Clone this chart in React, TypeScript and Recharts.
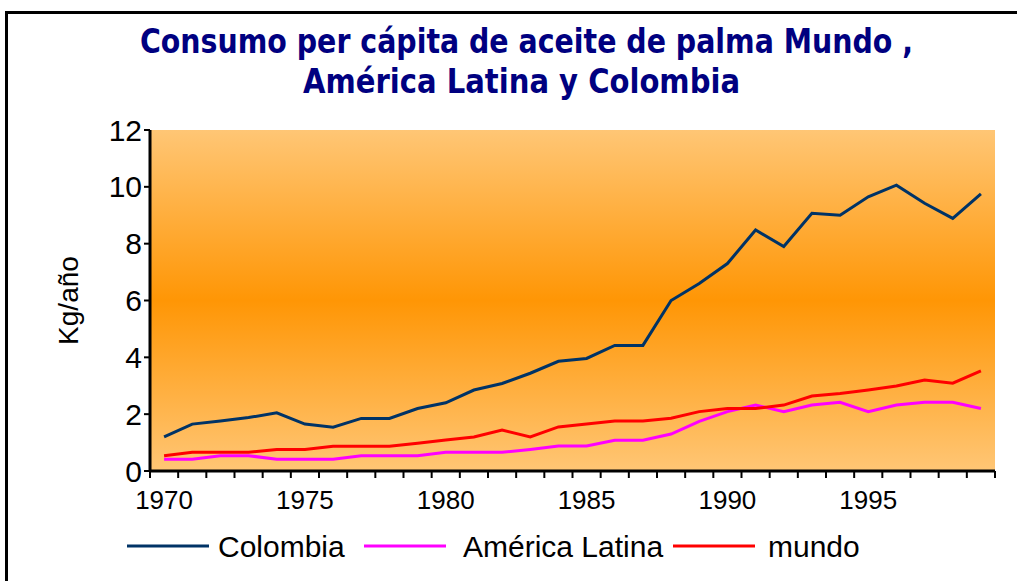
import React from 'react';
import { LineChart, Line, XAxis, YAxis, CartesianGrid } from 'recharts';

// categories
const years = [
  1970, 1971, 1972, 1973, 1974, 1975, 1976, 1977, 1978, 1979,
  1980, 1981, 1982, 1983, 1984, 1985, 1986, 1987, 1988, 1989,
  1990, 1991, 1992, 1993, 1994, 1995, 1996, 1997, 1998, 1999,
];

// series values (kg/año)
const colombia = [
  1.2, 1.65, 1.76, 1.88, 2.05, 1.65, 1.54, 1.85, 1.85, 2.2,
  2.4, 2.85, 3.08, 3.44, 3.86, 3.96, 4.42, 4.42, 6.0, 6.6,
  7.3, 8.48, 7.9, 9.07, 9.0, 9.65, 10.06, 9.42, 8.89, 9.75,
];
const americaLatina = [
  0.41, 0.41, 0.54, 0.54, 0.41, 0.41, 0.41, 0.54, 0.54, 0.54,
  0.66, 0.66, 0.66, 0.76, 0.88, 0.88, 1.08, 1.08, 1.3, 1.75,
  2.09, 2.32, 2.09, 2.32, 2.42, 2.09, 2.32, 2.42, 2.42, 2.2,
];
const mundo = [
  0.54, 0.66, 0.66, 0.66, 0.76, 0.76, 0.87, 0.87, 0.87, 0.98,
  1.09, 1.2, 1.44, 1.2, 1.55, 1.65, 1.76, 1.76, 1.86, 2.09,
  2.2, 2.2, 2.32, 2.64, 2.73, 2.85, 2.99, 3.2, 3.09, 3.52,
];

// tick labels
const yTicks = [0, 2, 4, 6, 8, 10, 12];
const xLabels = ['1970', '1975', '1980', '1985', '1990', '1995'];

const seriesNames = ['Colombia', 'América Latina', 'mundo'];
const seriesColors = ['#003366', '#FF00FF', '#FF0000'];

const W = 1017;
const H = 581;
const PLOT_LEFT = 150;
const PLOT_RIGHT = 22;
const HALF_CAT = (W - PLOT_LEFT - PLOT_RIGHT) / years.length / 2;

// tick marks sit between categories, like the original
const boundaryTicks = [...years.map(y => y - 0.5), years[years.length - 1] + 0.5];

const chartData = years.map((year, i) => ({
  year,
  colombia: colombia[i],
  latina: americaLatina[i],
  mundo: mundo[i],
}));

const FONT = '"Liberation Sans", Arial, sans-serif';

function YearTick(props: any) {
  const { x, y, payload } = props;
  const label = String(payload.value + 0.5);
  if (!xLabels.includes(label)) return null;
  return (
    <text x={x + HALF_CAT} y={y} dy={29} textAnchor="middle" fontSize={26} fontFamily={FONT} fill="#000">
      {label}
    </text>
  );
}

function YLabel(props: any) {
  const { viewBox } = props;
  const cx = viewBox.x + 78;
  const cy = viewBox.y + viewBox.height / 2;
  return (
    <text x={cx} y={cy} transform={`rotate(-90 ${cx} ${cy})`} textAnchor="middle" fontSize={28} fontFamily={FONT} fill="#000">
      Kg/año
    </text>
  );
}

const legendLayout = [
  { lineX: 127, textX: 218 },
  { lineX: 364, textX: 463 },
  { lineX: 673, textX: 768 },
];

export default function App() {
  return (
    <div style={{ position: 'absolute', left: 0, top: 0, width: W, height: H, overflow: 'hidden', background: '#fff' }}>
      <div style={{ position: 'absolute', left: 5, top: 11, width: 1040, height: 620, border: '3px solid #000' }} />

      <svg width={W} height={110} style={{ position: 'absolute', left: 0, top: 0 }}>
        <text x={140} y={53} textLength={773} lengthAdjust="spacingAndGlyphs" fontSize={33} fontWeight="bold"
          fontFamily='"DejaVu Sans Condensed", "DejaVu Sans", sans-serif' fill="#000080">
          Consumo per cápita de aceite de palma Mundo ,
        </text>
        <text x={303} y={93} textLength={437} lengthAdjust="spacingAndGlyphs" fontSize={33} fontWeight="bold"
          fontFamily='"DejaVu Sans Condensed", "DejaVu Sans", sans-serif' fill="#000080">
          América Latina y Colombia
        </text>
      </svg>

      <div style={{ position: 'absolute', left: 0, top: 0 }}>
        <LineChart width={W} height={H} data={chartData} margin={{ top: 130, right: PLOT_RIGHT, left: 0, bottom: 70 }}>
          <defs>
            <linearGradient id="plotBg" x1="0" y1="0" x2="0" y2="1">
              <stop offset="0%" stopColor="#FFC675" />
              <stop offset="50%" stopColor="#FF9605" />
              <stop offset="100%" stopColor="#FFC675" />
            </linearGradient>
          </defs>
          <CartesianGrid horizontal={false} vertical={false} fill="url(#plotBg)" />
          <XAxis
            dataKey="year"
            type="number"
            domain={[years[0] - 0.5, years[years.length - 1] + 0.5]}
            ticks={boundaryTicks}
            interval={0}
            height={40}
            axisLine={{ stroke: '#000', strokeWidth: 3 }}
            tickLine={{ stroke: '#000', strokeWidth: 2 }}
            tickSize={7}
            tick={<YearTick />}
          />
          <YAxis
            type="number"
            domain={[0, 12]}
            ticks={yTicks}
            interval={0}
            width={PLOT_LEFT}
            axisLine={{ stroke: '#000', strokeWidth: 3 }}
            tickLine={{ stroke: '#000', strokeWidth: 2 }}
            tickSize={6}
            tick={{ fontSize: 30, fill: '#000', fontFamily: FONT }}
            label={<YLabel />}
          />
          <Line type="linear" dataKey="colombia" name={seriesNames[0]} stroke={seriesColors[0]} strokeWidth={3} dot={false} isAnimationActive={false} />
          <Line type="linear" dataKey="latina" name={seriesNames[1]} stroke={seriesColors[1]} strokeWidth={3} dot={false} isAnimationActive={false} />
          <Line type="linear" dataKey="mundo" name={seriesNames[2]} stroke={seriesColors[2]} strokeWidth={3} dot={false} isAnimationActive={false} />
        </LineChart>
      </div>

      <svg width={W} height={60} style={{ position: 'absolute', left: 0, top: 520 }}>
        {seriesNames.map((name, i) => (
          <g key={name}>
            <line x1={legendLayout[i].lineX} x2={legendLayout[i].lineX + 82} y1={26} y2={26} stroke={seriesColors[i]} strokeWidth={3} />
            <text x={legendLayout[i].textX} y={37} fontSize={30} fontFamily={FONT} fill="#000">{name}</text>
          </g>
        ))}
      </svg>
    </div>
  );
}
